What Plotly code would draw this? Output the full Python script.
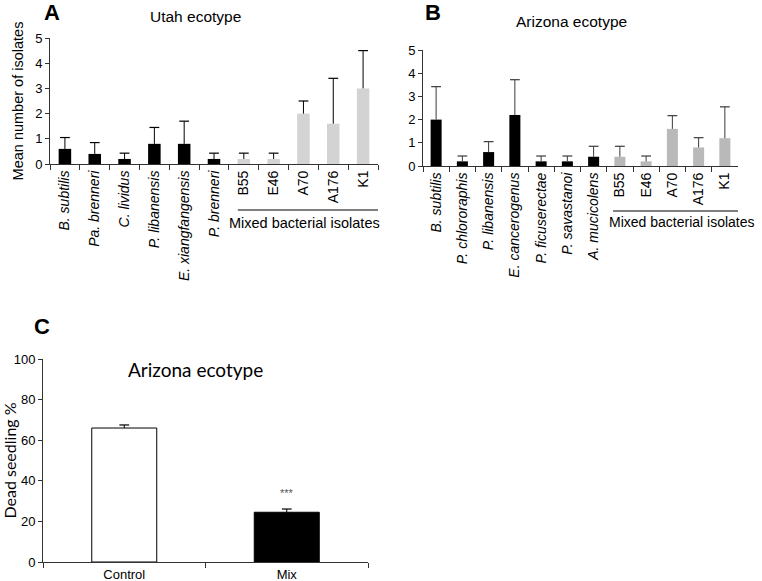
import plotly.graph_objects as go

# ---------------- data ----------------
utah_cats = ["B. subtilis", "Pa. brenneri", "C. lividus", "P. libanensis",
             "E. xiangfangensis", "P. brenneri", "B55", "E46", "A70", "A176", "K1"]
utah_italic = [True, True, True, True, True, True, False, False, False, False, False]
utah_vals = [0.6, 0.4, 0.2, 0.8, 0.8, 0.2, 0.2, 0.2, 2.0, 1.6, 3.0]
utah_err = [0.45, 0.45, 0.23, 0.65, 0.9, 0.23, 0.23, 0.23, 0.5, 1.8, 1.5]

az_cats = ["B. subtilis", "P. chlororaphis", "P. libanensis", "E. cancerogenus",
           "P. ficuserectae", "P. savastanoi", "A. mucicolens",
           "B55", "E46", "A70", "A176", "K1"]
az_italic = [True] * 7 + [False] * 5
az_vals = [2.0, 0.2, 0.6, 2.2, 0.2, 0.2, 0.4, 0.4, 0.2, 1.6, 0.8, 1.2]
az_err = [1.42, 0.23, 0.45, 1.52, 0.23, 0.23, 0.45, 0.45, 0.23, 0.57, 0.42, 1.35]

c_cats = ["Control", "Mix"]
c_vals = [66.0, 24.5]
c_err = [1.5, 1.6]

W, H = 762, 581
AXC = "#333333"
FONT = "Liberation Sans, Arial, sans-serif"


def px_x(p):
    return p / W


def px_y(p):
    return 1 - p / H


def labels(cats, ital):
    return [f"<i>{c}</i>" if i else c for c, i in zip(cats, ital)]


fig = go.Figure()


def add_panel(cats, vals, err, colors, ecol, xa, ya, bw, capw):
    fig.add_trace(go.Bar(
        x=cats, y=vals, marker=dict(color=colors, line=dict(color="black", width=0)),
        width=bw, xaxis=xa, yaxis=ya,
        error_y=dict(type="data", symmetric=False, array=err,
                     arrayminus=[0] * len(err), width=0, thickness=1, color=ecol),
    ))
    tops = [v + e for v, e in zip(vals, err)]
    fig.add_trace(go.Scatter(
        x=cats, y=tops, mode="markers", xaxis=xa, yaxis=ya,
        marker=dict(symbol="line-ew", size=capw, line=dict(color=ecol, width=1.2)),
        hoverinfo="skip",
    ))


# Panel A
a_colors = ["black" if i else "#d3d3d3" for i in utah_italic]
add_panel(utah_cats, utah_vals, utah_err, a_colors, "black", "x", "y", 0.42, 7)
# Panel B
b_colors = ["black" if i else "#b9b9b9" for i in az_italic]
add_panel(az_cats, az_vals, az_err, b_colors, "#3a3a3a", "x2", "y2", 0.42, 7)
# Panel C
fig.add_trace(go.Bar(
    x=c_cats, y=c_vals, width=0.4, xaxis="x3", yaxis="y3",
    marker=dict(color=["white", "black"], line=dict(color="black", width=1)),
    error_y=dict(type="data", symmetric=False, array=c_err,
                 arrayminus=[0, 0], width=0, thickness=1, color="black"),
))
fig.add_trace(go.Scatter(
    x=c_cats, y=[v + e for v, e in zip(c_vals, c_err)], mode="markers",
    xaxis="x3", yaxis="y3",
    marker=dict(symbol="line-ew", size=7, line=dict(color="black", width=1.2)),
    hoverinfo="skip",
))

common_x = dict(type="category", showline=True, linecolor=AXC, linewidth=1,
                ticks="outside", tickson="boundaries", ticklen=5, tickcolor=AXC,
                showgrid=False, zeroline=False, fixedrange=True, automargin=False)
common_y = dict(showline=True, linecolor=AXC, linewidth=1, ticks="outside",
                ticklen=4, tickcolor=AXC, showgrid=False, zeroline=False,
                automargin=False, fixedrange=True,
                tickfont=dict(size=13, color="black"))

fig.update_layout(
    width=W, height=H, autosize=False, margin=dict(l=0, r=0, t=0, b=0, pad=0),
    paper_bgcolor="white", plot_bgcolor="white", showlegend=False,
    font=dict(family=FONT, color="black", size=13),
    xaxis=dict(**common_x, domain=[px_x(50), px_x(378)], anchor="y",
               range=[-0.5, 10.5], tickangle=-90,
               tickvals=utah_cats, ticktext=labels(utah_cats, utah_italic),
               tickfont=dict(size=14, color="black")),
    yaxis=dict(**common_y, domain=[px_y(164), px_y(38)], anchor="x",
               range=[0, 5], dtick=1,
               title=dict(text="Mean number of isolates", font=dict(size=14.5), standoff=8)),
    xaxis2=dict(**common_x, domain=[px_x(423), px_x(738)], anchor="y2",
                range=[-0.5, 11.5], tickangle=-90,
                tickvals=az_cats, ticktext=labels(az_cats, az_italic),
                tickfont=dict(size=14, color="black")),
    yaxis2=dict(**common_y, domain=[px_y(166), px_y(50)], anchor="x2",
                range=[0, 5], dtick=1),
    xaxis3=dict(**common_x, domain=[px_x(43), px_x(368)], anchor="y3",
                range=[-0.5, 1.5], tickfont=dict(size=13, color="black")),
    yaxis3=dict(**common_y, domain=[px_y(562), px_y(359)], anchor="x3",
                range=[0, 100], dtick=20,
                title=dict(text="Dead seedling %", font=dict(family="Lato, sans-serif", size=16),
                           standoff=6)),
)

# underline + label for mixed isolates
fig.add_shape(type="line", xref="x", yref="paper", x0=5.8, x1=10.5,
              y0=px_y(210), y1=px_y(210), line=dict(color="black", width=1))
fig.add_shape(type="line", xref="x2", yref="paper", x0=6.74, x1=12.03,
              y0=px_y(211), y1=px_y(211), line=dict(color="black", width=1))

anns = [
    dict(text="Mixed bacterial isolates", xref="x", yref="paper", x=8.05, y=px_y(223),
         font=dict(size=14.5)),
    dict(text="Mixed bacterial isolates", xref="x2", yref="paper", x=9.35, y=px_y(222),
         font=dict(size=14)),
    dict(text="Utah ecotype", xref="paper", yref="paper", x=px_x(195), y=px_y(16),
         font=dict(size=15.5)),
    dict(text="Arizona ecotype", xref="paper", yref="paper", x=px_x(571), y=px_y(21),
         font=dict(size=15.5)),
    dict(text="<b>A</b>", xref="paper", yref="paper", x=px_x(52), y=px_y(13),
         font=dict(size=22)),
    dict(text="<b>B</b>", xref="paper", yref="paper", x=px_x(433), y=px_y(13),
         font=dict(size=22)),
    dict(text="<b>C</b>", xref="paper", yref="paper", x=px_x(42), y=px_y(326),
         font=dict(size=22)),
    dict(text="Arizona ecotype", xref="paper", yref="paper", x=px_x(195), y=px_y(369),
         font=dict(family="Lato, sans-serif", size=19)),
    dict(text="***", xref="x3", yref="y3", x="Mix", y=c_vals[1] + c_err[1] + 8,
         font=dict(size=11, color="#555555")),
]
for a in anns:
    a.update(showarrow=False, xanchor="center", yanchor="middle")
    fig.add_annotation(**a)

fig.write_html(
    "out.html",
    config={"displayModeBar": False, "responsive": False},
    post_script="document.body.style.margin='0';document.body.style.overflow='hidden';",
)
